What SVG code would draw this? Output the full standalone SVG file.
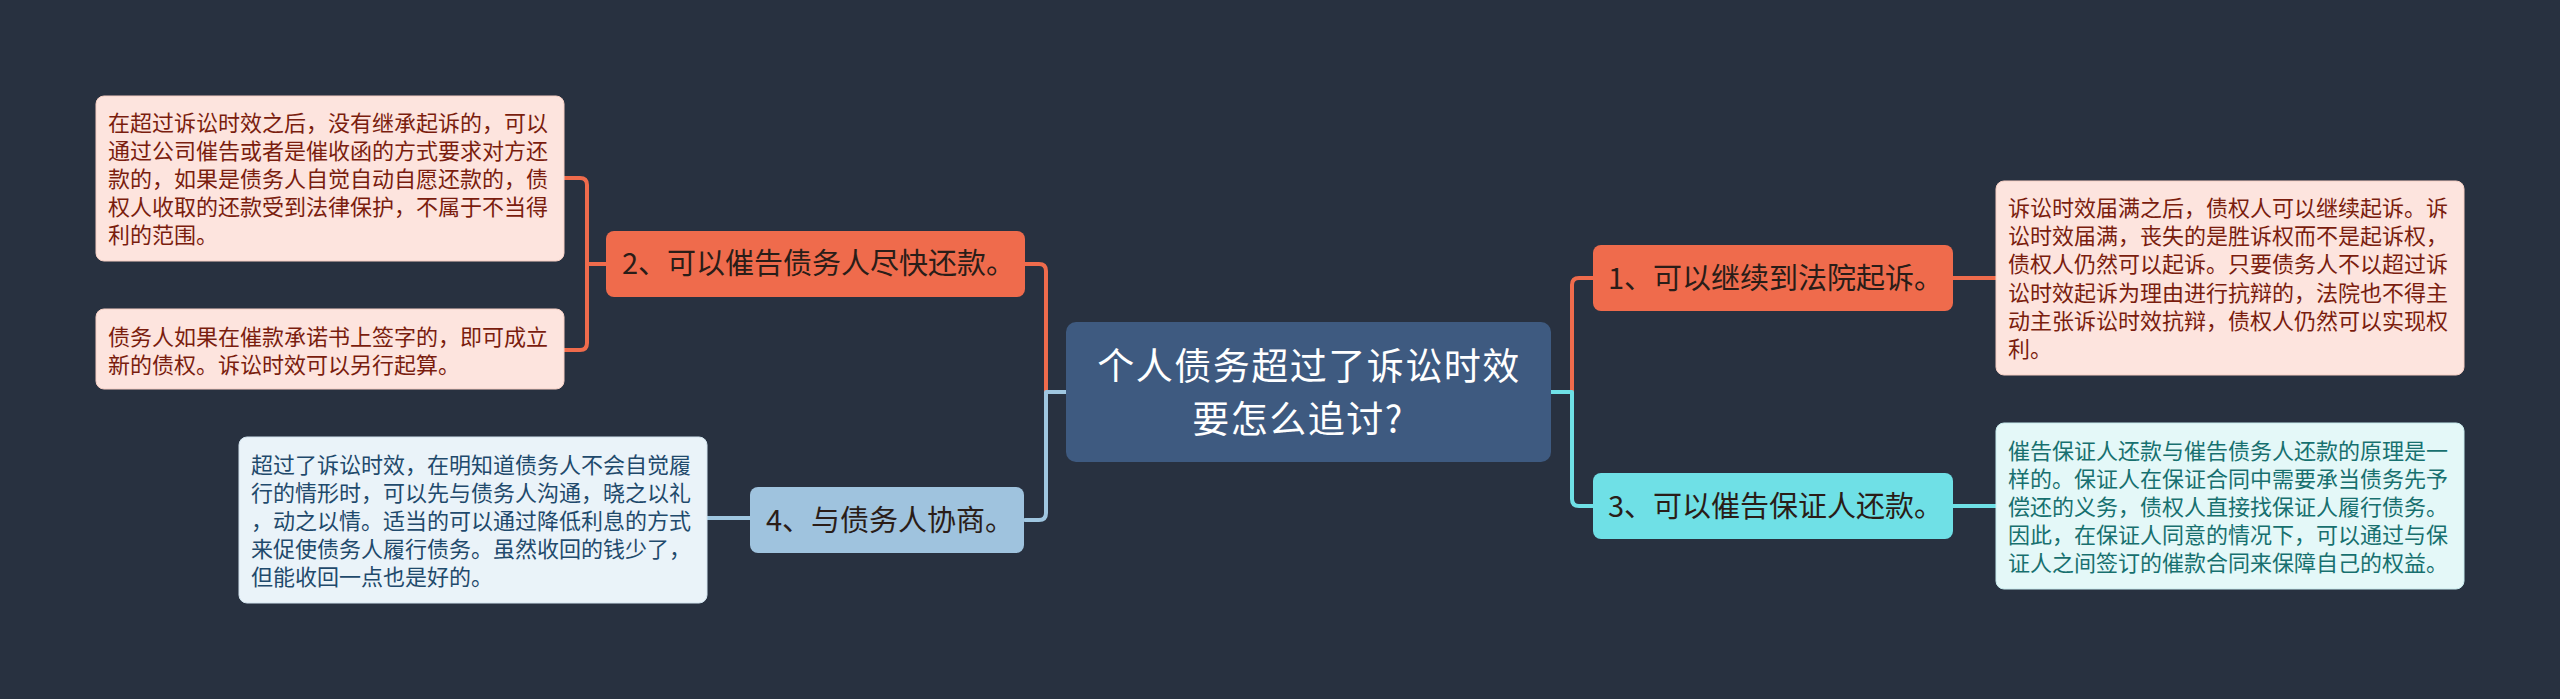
<svg xmlns="http://www.w3.org/2000/svg" width="2560" height="699" viewBox="0 0 2560 699">
<style>
.t{font-family:"Noto Sans CJK SC","Noto Sans",sans-serif}
.leaf{font-size:22px}
.node{font-size:29px;fill:#2a1d18}
.c{fill:none;stroke-width:4;stroke-linecap:round;stroke-linejoin:round}
.or{stroke:#ef6b4c}
.bl{stroke:#9fc6e0}
.cy{stroke:#6fe0e6}
</style>
<rect width="2560" height="699" fill="#283140"/>
<g id="connectors">
<path class="c or" d="M1066,392 H1046 V271 Q1046,264 1039,264 H1025"/>
<path class="c bl" d="M1066,392 H1046 V513 Q1046,520 1039,520 H1025"/>
<path class="c or" d="M1551,392 H1572 V285 Q1572,278 1579,278 H1593"/>
<path class="c cy" d="M1551,392 H1572 V499 Q1572,506 1579,506 H1593"/>
<path class="c or" d="M606,264 H587 V185 Q587,178 580,178 H564"/>
<path class="c or" d="M606,264 H587 V343 Q587,350 580,350 H564"/>
<path class="c bl" d="M750,518 H707"/>
<path class="c or" d="M1953,278 H1996"/>
<path class="c cy" d="M1953,506 H1996"/>
</g>
<g id="center">
<rect x="1066" y="322" width="485" height="140" rx="10" fill="#3e5a80"/>
<text class="t" x="1309" y="380" font-size="37" fill="#ffffff" text-anchor="middle" letter-spacing="1.5">个人债务超过了诉讼时效</text>
<text class="t" x="1298" y="433" font-size="37" fill="#ffffff" text-anchor="middle" letter-spacing="1.5">要怎么追讨?</text>
</g>
<g id="node2">
<rect x="606" y="231" width="419" height="66" rx="8" fill="#ef6b4c"/>
<text class="t node" x="622" y="274">2、可以催告债务人尽快还款。</text>
</g>
<g id="node4">
<rect x="750" y="487" width="274" height="66" rx="8" fill="#9fc3de"/>
<text class="t node" x="766" y="531" fill="#1e2632">4、与债务人协商。</text>
</g>
<g id="node1">
<rect x="1593" y="245" width="360" height="66" rx="8" fill="#ef6b4c"/>
<text class="t node" x="1608" y="289">1、可以继续到法院起诉。</text>
</g>
<g id="node3">
<rect x="1593" y="473" width="360" height="66" rx="8" fill="#6fe0e6"/>
<text class="t node" x="1608" y="517" fill="#1a2a30">3、可以催告保证人还款。</text>
</g>
<g id="leafL1">
<rect x="96" y="96" width="468" height="165" rx="8" fill="#fde4de" stroke="#f6cfc4" stroke-width="1"/>
<text class="t leaf" fill="#7a1d0e">
<tspan x="108" y="131">在超过诉讼时效之后，没有继承起诉的，可以</tspan>
<tspan x="108" y="159">通过公司催告或者是催收函的方式要求对方还</tspan>
<tspan x="108" y="187">款的，如果是债务人自觉自动自愿还款的，债</tspan>
<tspan x="108" y="215">权人收取的还款受到法律保护，不属于不当得</tspan>
<tspan x="108" y="243">利的范围。</tspan>
</text>
</g>
<g id="leafL2">
<rect x="96" y="309" width="468" height="80" rx="8" fill="#fde4de" stroke="#f6cfc4" stroke-width="1"/>
<text class="t leaf" fill="#7a1d0e">
<tspan x="108" y="345">债务人如果在催款承诺书上签字的，即可成立</tspan>
<tspan x="108" y="373">新的债权。诉讼时效可以另行起算。</tspan>
</text>
</g>
<g id="leafL4">
<rect x="239" y="437" width="468" height="166" rx="8" fill="#eaf3f9" stroke="#d3e4ef" stroke-width="1"/>
<text class="t leaf" fill="#1f4a6c">
<tspan x="251" y="473">超过了诉讼时效，在明知道债务人不会自觉履</tspan>
<tspan x="251" y="501">行的情形时，可以先与债务人沟通，晓之以礼</tspan>
<tspan x="251" y="529">，动之以情。适当的可以通过降低利息的方式</tspan>
<tspan x="251" y="557">来促使债务人履行债务。虽然收回的钱少了，</tspan>
<tspan x="251" y="585">但能收回一点也是好的。</tspan>
</text>
</g>
<g id="leafR1">
<rect x="1996" y="181" width="468" height="194" rx="8" fill="#fde4de" stroke="#f6cfc4" stroke-width="1"/>
<text class="t leaf" fill="#7a1d0e">
<tspan x="2008" y="216">诉讼时效届满之后，债权人可以继续起诉。诉</tspan>
<tspan x="2008" y="244">讼时效届满，丧失的是胜诉权而不是起诉权，</tspan>
<tspan x="2008" y="272">债权人仍然可以起诉。只要债务人不以超过诉</tspan>
<tspan x="2008" y="301">讼时效起诉为理由进行抗辩的，法院也不得主</tspan>
<tspan x="2008" y="329">动主张诉讼时效抗辩，债权人仍然可以实现权</tspan>
<tspan x="2008" y="357">利。</tspan>
</text>
</g>
<g id="leafR3">
<rect x="1996" y="423" width="468" height="166" rx="8" fill="#e4f8f8" stroke="#c8ecee" stroke-width="1"/>
<text class="t leaf" fill="#17706f">
<tspan x="2008" y="459">催告保证人还款与催告债务人还款的原理是一</tspan>
<tspan x="2008" y="487">样的。保证人在保证合同中需要承当债务先予</tspan>
<tspan x="2008" y="515">偿还的义务，债权人直接找保证人履行债务。</tspan>
<tspan x="2008" y="543">因此，在保证人同意的情况下，可以通过与保</tspan>
<tspan x="2008" y="571">证人之间签订的催款合同来保障自己的权益。</tspan>
</text>
</g>
</svg>
